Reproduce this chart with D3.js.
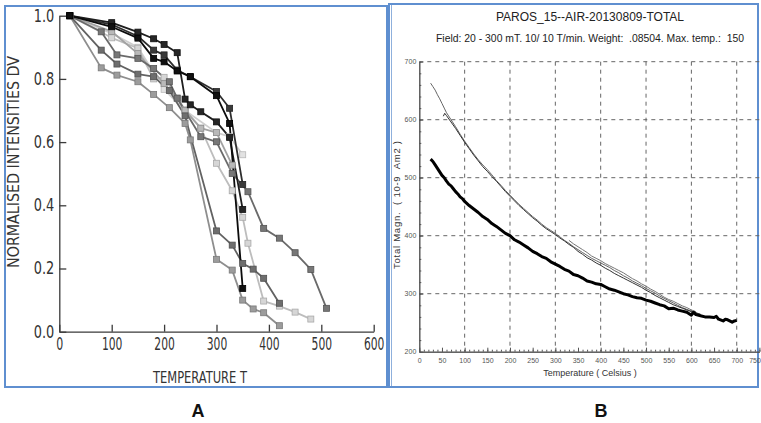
<!DOCTYPE html>
<html>
<head>
<meta charset="utf-8">
<script src="https://cdn.jsdelivr.net/npm/d3@7"></script>
<style>
  html, body { margin: 0; padding: 0; background: #fff; }
  svg { display: block; }
  .narrow { font-family: "Liberation Sans Narrow", "DejaVu Sans Condensed", "Liberation Sans", sans-serif; }
  .arial { font-family: "Liberation Sans", Arial, sans-serif; }
</style>
</head>
<body>
<svg id="chart" width="761" height="423"></svg>
<script>
// ---------- Panel A: normalised intensity vs temperature ----------
const aXTicks = [0, 100, 200, 300, 400, 500, 600];
const aYTicks = [0, 0.2, 0.4, 0.6, 0.8, 1.0];

const seriesB1 = [[20,1],[100,0.978],[150,0.948],[180,0.927],[200,0.909],[225,0.883],[240,0.736],[250,0.718],[270,0.696],[300,0.664],[325,0.615],[350,0.387]];
const seriesB2 = [[20,1],[100,0.972],[150,0.935],[180,0.891],[200,0.876],[225,0.828],[250,0.807],[300,0.76],[325,0.707],[350,0.466]];
const seriesB3 = [[20,1],[100,0.965],[150,0.929],[180,0.865],[200,0.854],[225,0.825],[250,0.807],[300,0.747],[325,0.659],[350,0.137]];
const seriesD1 = [[20,1],[80,0.949],[110,0.876],[150,0.865],[180,0.833],[210,0.791],[225,0.739],[270,0.617],[300,0.601],[330,0.501],[360,0.443],[390,0.327],[420,0.296],[450,0.25],[480,0.197],[510,0.074]];
const seriesG1 = [[20,1],[80,0.891],[110,0.847],[150,0.815],[180,0.807],[210,0.763],[240,0.683],[300,0.319],[330,0.274],[350,0.216],[370,0.198],[390,0.169],[420,0.09]];
const seriesG2 = [[20,1],[80,0.835],[110,0.812],[150,0.791],[180,0.751],[210,0.709],[240,0.659],[250,0.607],[300,0.229],[330,0.195],[350,0.1],[370,0.072],[390,0.06],[420,0.019]];
const seriesG3 = [[20,1],[100,0.95],[150,0.88],[200,0.785],[225,0.739],[240,0.7],[270,0.644],[300,0.63],[330,0.527]];
const seriesL1 = [[20,1],[100,0.93],[150,0.897],[180,0.8],[200,0.805],[240,0.702],[270,0.644],[300,0.533],[330,0.446],[350,0.362],[360,0.28],[390,0.097],[420,0.081],[450,0.062],[480,0.04]];
const seriesL2 = [[20,1],[100,0.944],[150,0.9],[200,0.767],[240,0.7],[300,0.63],[325,0.617],[350,0.56]];

const aSeries = [
  { data: seriesL2, line: "#cfcfcf", fill: "#e2e2e2", edge: "#b8b8b8" },
  { data: seriesL1, line: "#bdbdbd", fill: "#d6d6d6", edge: "#a9a9a9" },
  { data: seriesG3, line: "#a2a2a2", fill: "#b9b9b9", edge: "#8e8e8e" },
  { data: seriesG2, line: "#8e8e8e", fill: "#9c9c9c", edge: "#7a7a7a" },
  { data: seriesG1, line: "#626262", fill: "#6e6e6e", edge: "#505050" },
  { data: seriesD1, line: "#6a6a6a", fill: "#777777", edge: "#555555" },
  { data: seriesB2, line: "#2e2e2e", fill: "#3a3a3a", edge: "#222" },
  { data: seriesB1, line: "#1e1e1e", fill: "#262626", edge: "#111" },
  { data: seriesB3, line: "#0c0c0c", fill: "#111", edge: "#000" }
];

// ---------- Panel B: total magnetisation vs temperature ----------
const bXTicks = [0,50,100,150,200,250,300,350,400,450,500,550,600,650,700,750];
const bYTicks = [200,300,400,500,600,700];
const bGridX = [100,200,300,400,500,600,700];
const bGridY = [300,400,500,600,700];

// heating/cooling runs (temperature, magnetisation)
const curveThick = [[25,532],[30,528],[35,522],[40,516],[45,510],[50,504],[55,500],[60,494],[65,489],[70,486],[75,481],[80,476],[85,472],[90,467],[95,464],[100,459],[110,452],[120,446],[130,440],[140,433],[150,428],[160,421],[170,416],[180,410],[190,404],[200,400],[210,393],[220,389],[230,384],[240,379],[250,373],[260,369],[270,364],[280,361],[290,355],[300,351],[310,347],[320,342],[330,339],[340,333],[350,331],[360,327],[370,322],[380,320],[390,317],[400,316],[410,312],[420,308],[430,306],[440,303],[450,300],[460,298],[470,295],[480,293],[490,292],[500,289],[510,287],[520,284],[530,281],[540,279],[550,274],[560,275],[570,272],[580,270],[590,268],[600,263],[605,268],[610,264],[620,262],[630,260],[640,260],[650,259],[655,261],[660,256],[670,253],[675,256],[680,255],[690,251],[695,253],[700,254]];
const curveThin1 = [[25,663],[30,657],[35,651],[40,643],[45,636],[50,628],[55,620],[60,612],[70,600],[80,588],[90,575],[100,563],[110,552],[120,541],[130,531],[140,522],[150,514],[160,505],[170,495],[180,487],[190,478],[200,470],[210,462],[220,454],[230,447],[240,440],[250,433],[260,427],[270,420],[280,414],[290,409],[300,404],[310,398],[320,392],[330,387],[340,381],[350,376],[360,371],[370,366],[380,361],[390,357],[400,353],[410,349],[420,345],[430,340],[440,336],[450,331],[460,327],[470,322],[480,318],[490,314],[500,309],[510,305],[520,301],[530,296],[540,292],[550,288],[560,284],[570,280],[580,276],[590,273],[600,270],[610,267],[620,265]];
const curveThin2 = [[53,606],[56,611],[60,607],[70,596],[80,585],[90,573],[100,561],[110,550],[120,539],[130,529],[140,519],[150,511],[160,502],[170,494],[180,485],[190,476],[200,468],[210,460],[220,452],[230,445],[240,438],[250,431],[260,425],[270,418],[280,412],[290,407],[300,402],[310,396],[320,391],[330,385],[340,380],[350,373],[360,368],[370,362],[380,358],[390,353],[400,349],[410,344],[420,340],[430,335],[440,331],[450,327],[460,323],[470,319],[480,315],[490,311],[500,306],[510,302],[520,297],[530,293],[540,289],[550,285],[560,281],[570,278],[580,275],[590,272],[600,269],[610,267],[620,264]];
const curveThin3 = [[330,392],[340,386],[350,381],[360,376],[370,371],[380,365],[390,361],[400,357],[410,352],[420,348],[430,344],[440,340],[450,336],[460,331],[470,326],[480,322],[490,317],[500,313],[510,308],[520,304],[530,299],[540,294],[550,290],[560,287],[570,283],[580,279],[590,276],[600,272],[610,269]];

const svg = d3.select("#chart");
svg.append("rect").attr("width", 761).attr("height", 423).attr("fill", "#fff");

// ---------- draw panel A ----------
const ax = d3.scaleLinear().domain([0, 600]).range([59.3, 373.7]);
const ay = d3.scaleLinear().domain([0, 1]).range([331.7, 15.7]);
const gA = svg.append("g");

gA.append("rect").attr("x", 5).attr("y", 6).attr("width", 382).attr("height", 381)
  .attr("fill", "none").attr("stroke", "#5f8fd0").attr("stroke-width", 2);

const axisA_x = gA.append("g").attr("transform", `translate(0,${ay(0)})`)
  .call(d3.axisBottom(ax).tickValues(aXTicks).tickFormat(d3.format("d")).tickSizeInner(-7).tickSizeOuter(0).tickPadding(6));
const axisA_y = gA.append("g").attr("transform", `translate(${ax(0)},0)`)
  .call(d3.axisLeft(ay).tickValues(aYTicks).tickFormat(d3.format(".1f")).tickSizeInner(-7).tickSizeOuter(0).tickPadding(5));
[axisA_x, axisA_y].forEach(g => {
  g.selectAll("path, line").attr("stroke", "#3a3a3a").attr("stroke-width", 1.3);
  g.selectAll("text").attr("class", "narrow").attr("font-size", 17).attr("fill", "#333")
    .attr("textLength", function () { return this.textContent.length === 1 ? 7 : 20.5; })
    .attr("lengthAdjust", "spacingAndGlyphs");
});

const lineA = d3.line().x(d => ax(d[0])).y(d => ay(d[1]));
aSeries.forEach(s => {
  gA.append("path").attr("d", lineA(s.data)).attr("fill", "none")
    .attr("stroke", s.line).attr("stroke-width", 1.8).attr("stroke-linejoin", "round");
});
aSeries.forEach(s => {
  gA.selectAll(null).data(s.data).enter().append("rect")
    .attr("x", d => ax(d[0]) - 3).attr("y", d => ay(d[1]) - 3)
    .attr("width", 6).attr("height", 6)
    .attr("fill", s.fill).attr("stroke", s.edge).attr("stroke-width", 0.8);
});

gA.append("text").attr("class", "narrow").attr("x", 200).attr("y", 383)
  .attr("text-anchor", "middle").attr("font-size", 16).attr("fill", "#333")
  .attr("textLength", 94).attr("lengthAdjust", "spacingAndGlyphs").text("TEMPERATURE T");
gA.append("text").attr("class", "narrow").attr("transform", "translate(19,162) rotate(-90)")
  .attr("text-anchor", "middle").attr("font-size", 16).attr("fill", "#333")
  .attr("textLength", 212).attr("lengthAdjust", "spacingAndGlyphs").text("NORMALISED INTENSITIES DV");

svg.append("text").attr("class", "arial").attr("x", 198).attr("y", 417)
  .attr("text-anchor", "middle").attr("font-size", 18).attr("font-weight", "bold").attr("fill", "#111").text("A");

// ---------- draw panel B ----------
const bx = d3.scaleLinear().domain([0, 750]).range([419.3, 759.4]);
const by = d3.scaleLinear().domain([200, 700]).range([351.7, 61.7]);
const gB = svg.append("g");

gB.append("rect").attr("x", 389).attr("y", 4).attr("width", 369).attr("height", 383)
  .attr("fill", "none").attr("stroke", "#5f8fd0").attr("stroke-width", 2);
gB.append("line").attr("x1", 391.5).attr("x2", 391.5).attr("y1", 5).attr("y2", 386)
  .attr("stroke", "#8fb0dc").attr("stroke-width", 1);

// dashed grid
gB.selectAll(null).data(bGridX).enter().append("line")
  .attr("x1", d => bx(d)).attr("x2", d => bx(d)).attr("y1", by(700)).attr("y2", by(200))
  .attr("stroke", "#666").attr("stroke-width", 1).attr("stroke-dasharray", "4,4");
gB.selectAll(null).data(bGridY).enter().append("line")
  .attr("x1", bx(0)).attr("x2", bx(750)).attr("y1", d => by(d)).attr("y2", d => by(d))
  .attr("stroke", "#666").attr("stroke-width", 1).attr("stroke-dasharray", "4,4");

// axes with minor ticks
const bxMinor = d3.range(0, 751, 10);
const byMinor = d3.range(200, 701, 20);
const axisB_x = gB.append("g").attr("transform", `translate(0,${by(200)})`)
  .call(d3.axisBottom(bx).tickValues(bxMinor).tickFormat("").tickSizeInner(-2).tickSizeOuter(0));
const axisB_xm = gB.append("g").attr("transform", `translate(0,${by(200)})`)
  .call(d3.axisBottom(bx).tickValues(bXTicks).tickFormat(d3.format("d")).tickSizeInner(-4).tickSizeOuter(0).tickPadding(6));
const axisB_y = gB.append("g").attr("transform", `translate(${bx(0)},0)`)
  .call(d3.axisLeft(by).tickValues(byMinor).tickFormat("").tickSizeInner(-2).tickSizeOuter(0));
const axisB_ym = gB.append("g").attr("transform", `translate(${bx(0)},0)`)
  .call(d3.axisLeft(by).tickValues(bYTicks).tickFormat(d3.format("d")).tickSizeInner(-4).tickSizeOuter(0).tickPadding(3));
[axisB_x, axisB_xm, axisB_y, axisB_ym].forEach(g => {
  g.selectAll("path, line").attr("stroke", "#555").attr("stroke-width", 1);
  g.selectAll("text").attr("class", "arial").attr("font-size", 7).attr("fill", "#555");
});
// the last label sits at the panel's right edge
axisB_xm.selectAll("text").filter(d => d === 750).attr("text-anchor", "end").attr("dx", "1");

const lineB = d3.line().x(d => bx(d[0])).y(d => by(d[1]));
gB.append("path").attr("d", lineB(curveThin3)).attr("fill", "none").attr("stroke", "#777").attr("stroke-width", 1);
gB.append("path").attr("d", lineB(curveThin1)).attr("fill", "none").attr("stroke", "#666").attr("stroke-width", 1);
gB.append("path").attr("d", lineB(curveThin2)).attr("fill", "none").attr("stroke", "#333").attr("stroke-width", 1);
gB.append("path").attr("d", lineB(curveThick)).attr("fill", "none").attr("stroke", "#000").attr("stroke-width", 3).attr("stroke-linejoin", "round");

gB.append("text").attr("class", "arial").attr("x", 590).attr("y", 21)
  .attr("text-anchor", "middle").attr("font-size", 12).attr("fill", "#222").text("PAROS_15--AIR-20130809-TOTAL");
gB.append("text").attr("class", "arial").attr("x", 590).attr("y", 42)
  .attr("text-anchor", "middle").attr("font-size", 10.4).attr("fill", "#222")
  .attr("xml:space", "preserve").style("white-space", "pre")
  .text("Field: 20 - 300 mT. 10/ 10 T/min. Weight:  .08504. Max. temp.:  150");
gB.append("text").attr("class", "arial").attr("x", 590).attr("y", 376)
  .attr("text-anchor", "middle").attr("font-size", 9).attr("fill", "#333")
  .attr("xml:space", "preserve").style("white-space", "pre").text("Temperature ( Celsius )");
gB.append("text").attr("class", "arial").attr("transform", "translate(400,205) rotate(-90)")
  .attr("text-anchor", "middle").attr("font-size", 9.5).attr("fill", "#333")
  .attr("xml:space", "preserve").style("white-space", "pre")
  .attr("textLength", 128).attr("lengthAdjust", "spacing").text("Total Magn.  ( 10-9  Am2 )");

svg.append("text").attr("class", "arial").attr("x", 601).attr("y", 417)
  .attr("text-anchor", "middle").attr("font-size", 18).attr("font-weight", "bold").attr("fill", "#111").text("B");
</script>
</body>
</html>
